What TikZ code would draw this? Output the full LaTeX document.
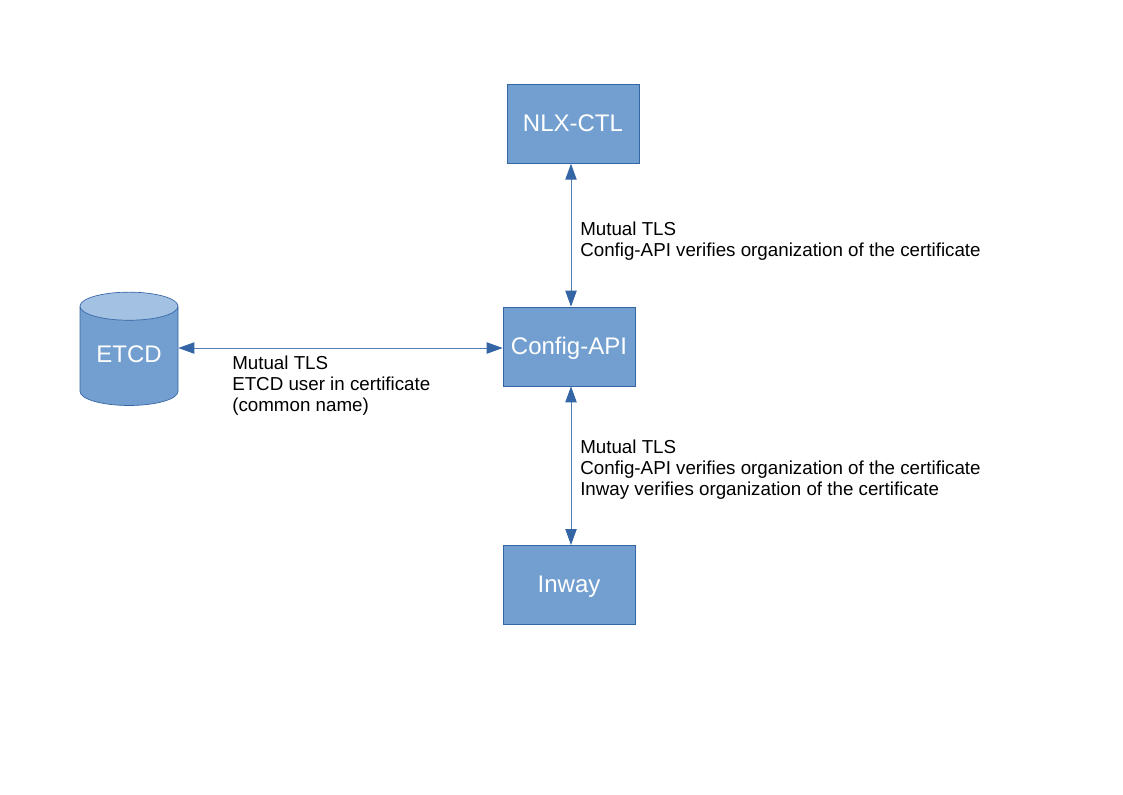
\documentclass[tikz,border=0pt]{standalone}
\usepackage{fontspec}
\setmainfont{Liberation Sans}
\usetikzlibrary{positioning,shapes.geometric,arrows.meta}
\definecolor{boxfill}{HTML}{729FCF}
\definecolor{boxline}{HTML}{3465A4}
\definecolor{topfill}{HTML}{A3C1E3}
\tikzset{
  service/.style={rectangle,draw=boxline,fill=boxfill,line width=0.5pt,minimum width=99pt,minimum height=59.25pt,inner sep=0pt,text height=12.9pt,text depth=1.5pt,text=white,font=\fontsize{18}{21}\selectfont},
  store/.style={cylinder,shape border rotate=90,aspect=0.43,draw=boxline,line width=0.5pt,cylinder uses custom fill,cylinder body fill=boxfill,cylinder end fill=topfill,minimum width=73.5pt,minimum height=85pt,inner sep=0pt,text=white,font=\fontsize{18}{21}\selectfont},
  link/.style={draw=boxline!85!white,line width=0.7pt,{Triangle[length=12pt,width=8.5pt,color=boxline]}-{Triangle[length=12pt,width=8.5pt,color=boxline]}},
  note/.style={align=left,inner sep=0pt,font=\fontsize{14.07}{15.75}\selectfont}
}
\begin{document}
\begin{tikzpicture}[x=0.75pt,y=-0.75pt]
  \useasboundingbox (0,0) rectangle (1123,794);
  \node[service] (cfg) at (569,346.5) {Config-API};
  \node[service] (nlx) [above=107.25pt of cfg,xshift=3pt] {NLX-CTL};
  \node[service] (inway) [below=119pt of cfg] {Inway};
  \node[store] (etcd) at (129,356) {\raisebox{2.6pt}{ETCD}};
  \node[note,anchor=west] (toplabel) at (580,241) {Mutual TLS\\Config-API verifies organization of the certificate};
  \node[note,anchor=west] (etcdlabel) at (232,386) {Mutual TLS\\ETCD user in certificate\\(common name)};
  \node[note,anchor=west] (lowlabel) at (580,470) {Mutual TLS\\Config-API verifies organization of the certificate\\Inway verifies organization of the certificate};
  \draw[link] ([xshift=-1.5pt]nlx.south) -- ([xshift=1.5pt]cfg.north);
  \draw[link] ([xshift=1.5pt]cfg.south) -- ([xshift=1.5pt]inway.north);
  \draw[link] (etcd.east |- 0,348) -- (cfg.west |- 0,348);
\end{tikzpicture}
\end{document}
